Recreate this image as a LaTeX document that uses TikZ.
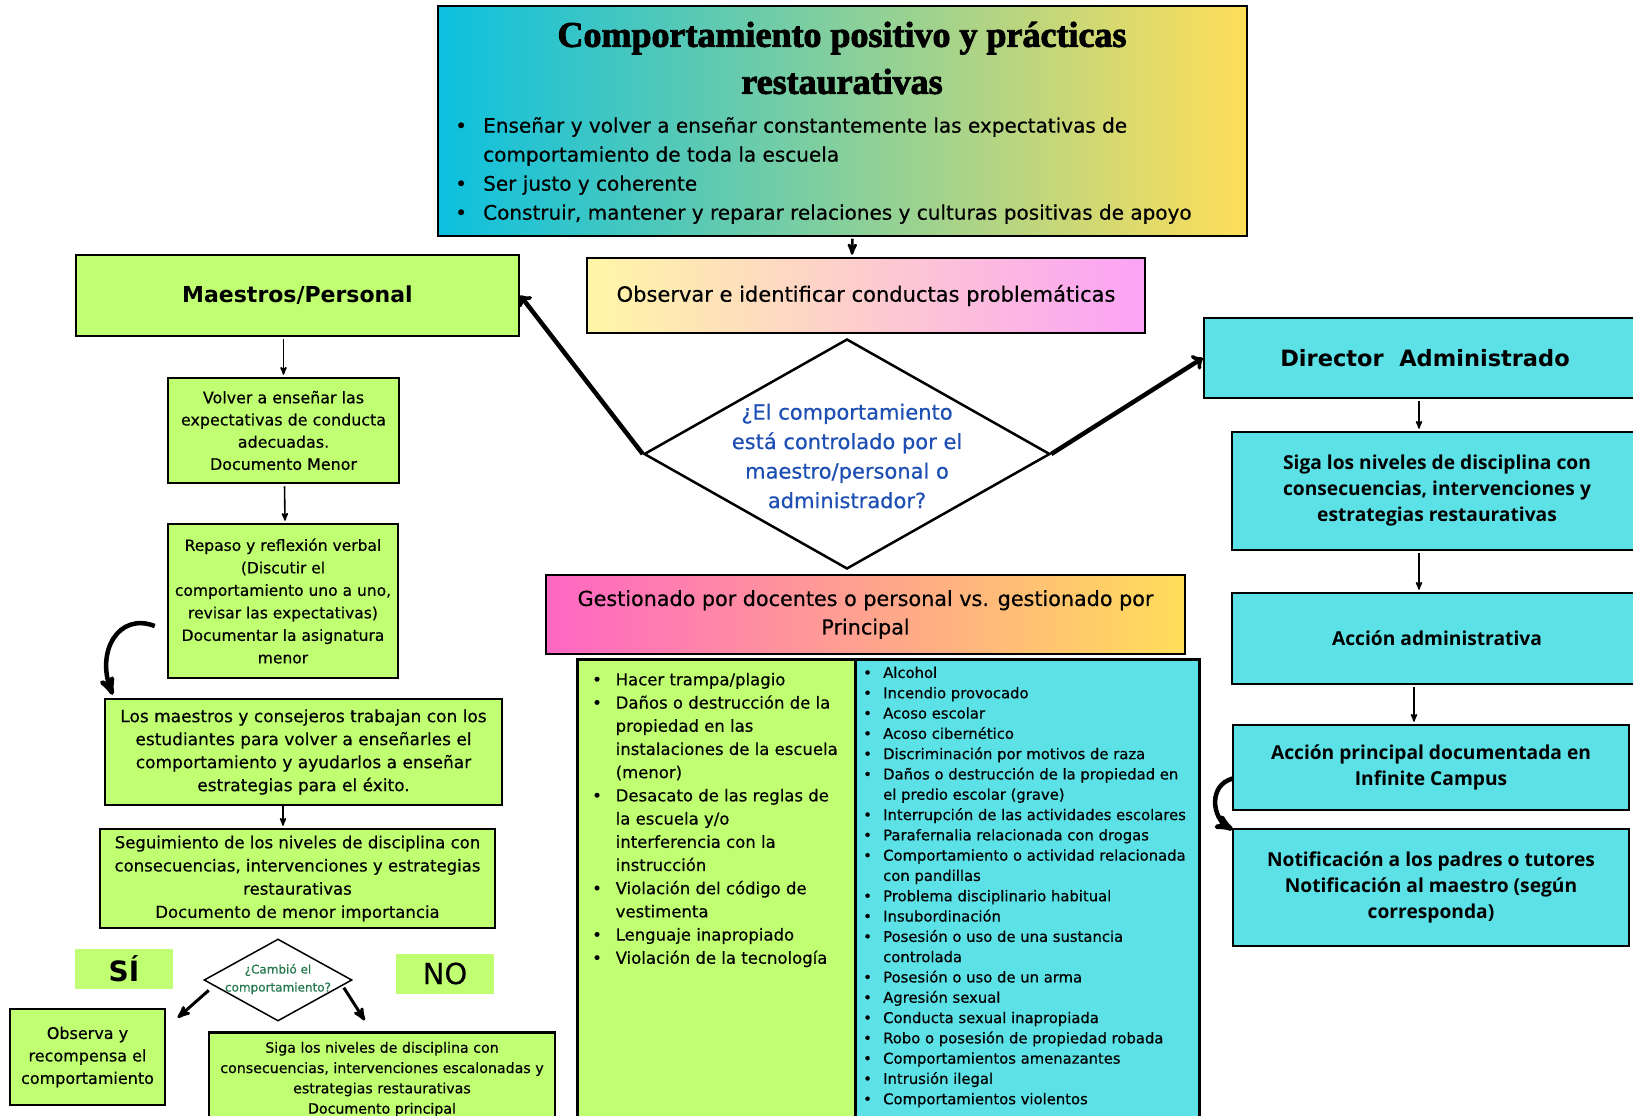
\documentclass[tikz,border=0pt]{standalone}
\usepackage{fontspec}
\setmainfont{DejaVu Sans}[UprightFeatures={FakeBold=0.5}]
\newfontfamily\headfont{Liberation Serif}[BoldFeatures={FakeBold=2.5}]
\newfontfamily\canvafont{Open Sans}
\usetikzlibrary{calc,arrows,shapes}

\definecolor{lgreen}{HTML}{C1FF72}
\definecolor{lcyan}{HTML}{5CE1E6}
\definecolor{tleft}{HTML}{0CC0DF}
\definecolor{tright}{HTML}{FFDE59}
\definecolor{oleft}{HTML}{FFF6A6}
\definecolor{oright}{HTML}{FBA2F6}
\definecolor{pleft}{HTML}{FF66C4}
\definecolor{qblue}{HTML}{1D4FB4}
\definecolor{qgreen}{HTML}{24784C}

\newlength\bw
\newcommand{\bi}{\makebox[\bw][l]{\textbullet}}
\newcommand{\bc}{\hspace*{\bw}}

\begin{document}
\begin{tikzpicture}[x=1pt,y=-1pt,              % 1pt = 1 pixel, y down
                    >=stealth',                 % arrow tip
                    font=\fontsize{15.5}{22.5}\selectfont,
                    gbox/.style={draw,line width=2.5pt,fill=lgreen,align=center,inner sep=0pt},
                    cbox/.style={draw,line width=2.5pt,fill=lcyan,align=center,inner sep=0pt,
                                 font=\canvafont\bfseries\fontsize{19.2}{26}\selectfont},
                    qshape/.style={diamond,draw,line width=2.5pt,fill=white,inner sep=0pt},
                    lbl/.style={fill=lgreen,inner sep=0pt,minimum width=98,minimum height=40},
                    arr/.style={line width=1.6pt,->,shorten <=2pt,shorten >=2pt},
                    bigarr/.style={line width=4.5pt,-to},
                    curly/.style={line width=4.5pt,->}
                    ]

\clip (0,0) rectangle (1633,1116);

% Title
\node[draw,line width=1.5pt,left color=tleft,right color=tright,
      minimum width=809,minimum height=230] (title) at (842.5,121) {};
\node[font=\headfont\bfseries\fontsize{36}{47}\selectfont,align=center] (ttext) at (842,58)
     {Comportamiento positivo y prácticas\\restaurativas};
\node[font={\setlength\bw{28pt}\fontsize{20}{29}\selectfont},align=left,anchor=west,inner sep=0pt]
     (tlist) at (455,170.5)
     {\bi Enseñar y volver a enseñar constantemente las expectativas de\\
      \bc comportamiento de toda la escuela\\
      \bi Ser justo y coherente\\
      \bi Construir, mantener y reparar relaciones y culturas positivas de apoyo};

% Observe
\node[draw,line width=2.5pt,left color=oleft,right color=oright,
      minimum width=558,minimum height=75,font=\fontsize{21}{28}\selectfont] (obs) at (866,295.5)
     {Observar e identificar conductas problemáticas};
\draw[arr,line width=2.6pt] ([xshift=10pt]title.south) -- ([xshift=-14pt]obs.north);

% Question
\node[qshape,minimum width=406,minimum height=230] (bigq) at (847,454) {};
\node[align=center,text=qblue,font=\fontsize{21}{29.5}\selectfont] (bigqtext) at (847,456)
     {¿El comportamiento\\está controlado por el\\maestro/personal o\\administrador?};

% Teachers / staff
\node[gbox,minimum width=443,minimum height=81,font=\bfseries\fontsize{22}{26}\selectfont]
     (maestros) at (297.5,295.5) {Maestros/Personal};
\draw[bigarr] (bigq.west) -- (maestros.east);

% Director
\node[cbox,minimum width=442,minimum height=80,font=\bfseries\fontsize{22.5}{27}\selectfont]
     (director) at (1425,358) {Director\ \ Administrado};
\draw[bigarr] (bigq.east) -- (director.west);

\node[cbox,minimum width=410,minimum height=118] (dsiga) at (1437,491)
     {Siga los niveles de disciplina con\\consecuencias, intervenciones y\\estrategias restaurativas};
\node[cbox,minimum width=410,minimum height=91] (daccion) at (1437,638.5) {Acción administrativa};
\node[cbox,minimum width=396,minimum height=85] (dprincipal) at (1431,767.5)
     {Acción principal documentada en\\Infinite Campus};
\node[cbox,minimum width=396,minimum height=117] (dnotif) at (1431,887.5)
     {Notificación a los padres o tutores\\Notificación al maestro (según\\corresponda)};

\draw[arr] ([xshift=-6pt]director.south) -- ([xshift=-18pt]dsiga.north);
\draw[arr] ([xshift=-18pt]dsiga.south) -- ([xshift=-18pt]daccion.north);
\draw[arr] ([xshift=-23pt]daccion.south) -- ([xshift=-17pt]dprincipal.north);
\draw[curly] ($(dprincipal.west)+(1,11)$) .. controls (1208,785) and (1212,818) .. ($(dnotif.north west)+(1,2)$);

% Managed by
\node[draw,line width=2.5pt,left color=pleft,right color=tright,align=center,
      minimum width=639,minimum height=79,font=\fontsize{20.7}{28.5}\selectfont] (gest) at (865.5,614.5)
     {Gestionado por docentes o personal vs. gestionado por\\Principal};

\node[gbox,minimum width=278,minimum height=470,anchor=north west] (gbox) at (576,658) {};
\node[draw,line width=2.5pt,fill=lcyan,minimum width=344,minimum height=470,anchor=north west]
     (cbox) at (854,658) {};

\node[font={\setlength\bw{23.5pt}\fontsize{16.5}{23.2}\selectfont},align=left,anchor=west,inner sep=0pt]
     (glist) at (592,820)
     {\bi Hacer trampa/plagio\\
      \bi Daños o destrucción de la\\
      \bc propiedad en las\\
      \bc instalaciones de la escuela\\
      \bc (menor)\\
      \bi Desacato de las reglas de\\
      \bc la escuela y/o\\
      \bc interferencia con la\\
      \bc instrucción\\
      \bi Violación del código de\\
      \bc vestimenta\\
      \bi Lenguaje inapropiado\\
      \bi Violación de la tecnología};

\node[font={\setlength\bw{20pt}\fontsize{14.8}{20.3}\selectfont},align=left,anchor=west,inner sep=0pt]
     (clist) at (863,887)
     {\bi Alcohol\\
      \bi Incendio provocado\\
      \bi Acoso escolar\\
      \bi Acoso cibernético\\
      \bi Discriminación por motivos de raza\\
      \bi Daños o destrucción de la propiedad en\\
      \bc el predio escolar (grave)\\
      \bi Interrupción de las actividades escolares\\
      \bi Parafernalia relacionada con drogas\\
      \bi Comportamiento o actividad relacionada\\
      \bc con pandillas\\
      \bi Problema disciplinario habitual\\
      \bi Insubordinación\\
      \bi Posesión o uso de una sustancia\\
      \bc controlada\\
      \bi Posesión o uso de un arma\\
      \bi Agresión sexual\\
      \bi Conducta sexual inapropiada\\
      \bi Robo o posesión de propiedad robada\\
      \bi Comportamientos amenazantes\\
      \bi Intrusión ilegal\\
      \bi Comportamientos violentos};

% Left column
\node[gbox,minimum width=231,minimum height=105,font=\fontsize{15.9}{22.2}\selectfont] (volver) at (283.5,430.5)
     {Volver a enseñar las\\expectativas de conducta\\adecuadas.\\Documento Menor};
\draw[arr] ([xshift=-14pt]maestros.south) -- (volver.north);

\node[gbox,minimum width=230,minimum height=154] (repaso) at (283,601)
     {Repaso y reflexión verbal\\(Discutir el\\comportamiento uno a uno,\\revisar las expectativas)\\Documentar la asignatura\\menor};
\draw[arr] ([xshift=1pt]volver.south) -- ([xshift=2pt]repaso.north);

\node[gbox,minimum width=397,minimum height=106,font=\fontsize{17}{23}\selectfont] (losm) at (303.5,752)
     {Los maestros y consejeros trabajan con los\\estudiantes para volver a enseñarles el\\comportamiento y ayudarlos a enseñar\\estrategias para el éxito.};
\draw[curly] ($(repaso.west)+(-12,25)$) .. controls (118,612) and (96,652) .. ($(losm.north west)+(9,-3)$);

\node[gbox,minimum width=395,minimum height=99,font=\fontsize{16.5}{23.2}\selectfont] (segui) at (297.5,878.5)
     {Seguimiento de los niveles de disciplina con\\consecuencias, intervenciones y estrategias\\restaurativas\\Documento de menor importancia};
\draw[arr,shorten <=0pt] ([xshift=-20.5pt]losm.south) -- ([xshift=-14.5pt]segui.north);

% Changed?
\node[lbl,font=\bfseries\fontsize{28}{32}\selectfont] (si) at (124,969) {SÍ};
\node[lbl,font=\fontsize{29}{33}\selectfont] (no) at (445,973.5) {NO};
\node[qshape,line width=1.5pt,minimum width=148,minimum height=82] (smallq) at (278,980) {};
\node[align=center,text=qgreen,font=\fontsize{12}{18}\selectfont] (smallqtext) at (278,979)
     {¿Cambió el\\comportamiento?};

\node[gbox,minimum width=155,minimum height=96,font=\fontsize{16}{22.5}\selectfont] (observa) at (87.5,1057)
     {Observa y\\recompensa el\\comportamiento};
\node[gbox,minimum width=346,minimum height=94,anchor=north,font=\fontsize{14.2}{20.3}\selectfont] (lsiga) at (382,1031)
     {Siga los niveles de disciplina con\\consecuencias, intervenciones escalonadas y\\estrategias restaurativas\\Documento principal};

\draw[arr,line width=3pt] ($(smallq.west)+(7,9)$) -- ($(smallq.west)+(-27,39)$);
\draw[arr,line width=3pt] ($(smallq.east)+(-10,6)$) -- ($(smallq.east)+(13,42)$);

\end{tikzpicture}
\end{document}
